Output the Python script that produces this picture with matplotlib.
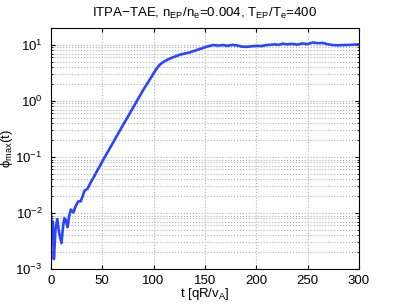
import matplotlib
matplotlib.use("Agg")
import matplotlib.pyplot as plt
from matplotlib.ticker import LogLocator, NullFormatter

plt.rcParams['font.family'] = ['Liberation Sans', 'DejaVu Sans']
plt.rcParams['mathtext.fontset'] = 'custom'
plt.rcParams['mathtext.rm'] = 'Liberation Sans'
plt.rcParams['mathtext.it'] = 'Liberation Sans'

# values
t = [0, 1.2, 2.0, 3.0, 4.5, 6.3, 8.0, 10.4, 12.0, 13.2, 14.5, 16.2, 18.0, 19.5,
     22.0, 24.0, 26.6, 29.2, 31.0, 32.8, 35.7, 37.0, 38.6, 42.0, 45.0, 48.0,
     51.0, 57.5, 65.0, 72.0, 80.0, 90.0, 97.0, 100.0, 103.0, 106.0, 110.0,
     115.0, 120.0, 126.0, 135.0, 145.0, 152.0, 158.0, 163.0, 168.0, 172.0,
     177.0, 182.0, 186.0, 190.0, 195.0, 200.0, 205.0, 210.0, 214.0, 218.0,
     222.0, 226.0, 230.0, 235.0, 240.0, 245.0, 250.0, 255.0, 260.0, 265.0,
     270.0, 275.0, 280.0, 285.0, 292.0, 300.0]
phi = [0.0100, 0.0046, 0.0070, 0.0015, 0.0050, 0.0078, 0.0045, 0.0029, 0.0060,
       0.0081, 0.0076, 0.0056, 0.0090, 0.0115, 0.0102, 0.0130, 0.0160, 0.0162,
       0.0200, 0.0250, 0.0270, 0.0300, 0.0345, 0.0440, 0.0560, 0.0700,
       0.089, 0.143, 0.250, 0.420, 0.750, 1.57, 2.50, 3.10, 3.75, 4.40, 5.00,
       5.60, 6.10, 6.70, 7.30, 8.40, 9.30, 9.90, 9.70, 9.90, 9.60,
       10.0, 9.70, 9.30, 9.20, 9.40, 9.60, 9.50, 9.90, 10.0, 10.2,
       10.0, 10.5, 10.2, 10.4, 10.1, 10.6, 10.3, 11.0, 10.7, 10.8,
       10.2, 9.9, 9.8, 9.9, 10.0, 10.2]

fig = plt.figure(figsize=(3.97, 3.04), dpi=100)
ax = fig.add_axes([0.128, 0.115, 0.776, 0.793])

ax.semilogy(t, phi, color='#2a44ff', lw=1.9)

ax.set_xlim(0, 300)
ax.set_ylim(1e-3, 20)
ax.set_xticks([0, 50, 100, 150, 200, 250, 300])
ax.yaxis.set_major_locator(LogLocator(base=10, numticks=10))
ax.yaxis.set_minor_locator(LogLocator(base=10, subs=range(2, 10), numticks=20))
ax.yaxis.set_minor_formatter(NullFormatter())

ax.grid(True, which='major', color='#b0b0b0', ls=':', lw=0.8)
ax.grid(True, which='minor', axis='y', color='#b0b0b0', ls=':', lw=0.8)
ax.tick_params(direction='in', labelsize=9.5, length=3, top=True, right=True)
ax.tick_params(axis='x', pad=4.5)
ax.tick_params(axis='y', pad=6)
ax.tick_params(which='minor', direction='in', length=1.5, right=True)
for s in ax.spines.values():
    s.set_linewidth(0.8)

ax.set_xlabel(r't [qR/v$_\mathrm{A}$]', fontsize=9.5, labelpad=-1)
ax.set_ylabel(r'$\mathrm{\phi}_\mathrm{max}$(t)', fontsize=9.5, labelpad=0)
ax.set_title(r'ITPA$-$TAE, n$_\mathrm{EP}$/n$_\mathrm{e}$=0.004, T$_\mathrm{EP}$/T$_\mathrm{e}$=400',
             fontsize=9.5, pad=8)

fig.savefig('out.png', dpi=100)
